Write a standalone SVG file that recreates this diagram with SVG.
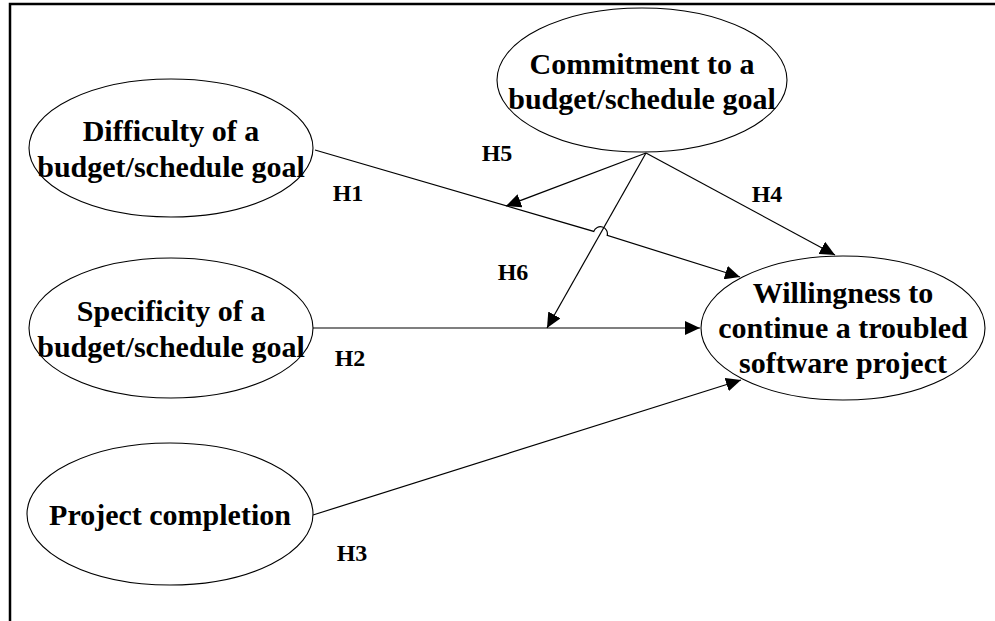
<svg xmlns="http://www.w3.org/2000/svg" width="995" height="621" viewBox="0 0 995 621">
<style>
.node ellipse{fill:#fff;stroke:#000;stroke-width:1.1}
.node text{font-family:"Liberation Serif","Times New Roman",serif;font-weight:bold;font-size:30px;text-anchor:middle;fill:#000}
.lbl{font-family:"Liberation Serif","Times New Roman",serif;font-weight:bold;font-size:24px;text-anchor:middle;fill:#000}
.edge{fill:none;stroke:#000;stroke-width:1.2}
.frame{fill:none;stroke:#000;stroke-width:2.5}
</style>
<defs>
<marker id="arr" markerUnits="userSpaceOnUse" markerWidth="16" markerHeight="14" refX="15" refY="7" orient="auto">
<path d="M0,0 L15,7 L0,14 Z" fill="#000"/>
</marker>
</defs>
<rect width="995" height="621" fill="#fff"/>
<path class="frame" d="M10,621 L10,4 L995,4"/>
<g id="connectors">
<path class="edge" d="M315,150 L593.8,231.4 A7,7 0 0 1 607.2,235.4 L740,277" marker-end="url(#arr)"/>
<line class="edge" x1="646" y1="153" x2="506" y2="206" marker-end="url(#arr)"/>
<line class="edge" x1="646" y1="153" x2="835" y2="255" marker-end="url(#arr)"/>
<line class="edge" x1="646" y1="153" x2="547" y2="328" marker-end="url(#arr)"/>
<line class="edge" x1="313" y1="328" x2="700" y2="328" marker-end="url(#arr)"/>
<line class="edge" x1="313" y1="515" x2="741" y2="380" marker-end="url(#arr)"/>
</g>
<g id="labels">
<text class="lbl" x="497" y="161">H5</text>
<text class="lbl" x="348" y="201">H1</text>
<text class="lbl" x="767" y="202">H4</text>
<text class="lbl" x="513" y="280">H6</text>
<text class="lbl" x="350" y="366">H2</text>
<text class="lbl" x="352" y="561">H3</text>
</g>
<g id="commitment" class="node">
<ellipse cx="642" cy="80" rx="145" ry="72"/>
<text x="642" y="74">Commitment to a</text>
<text x="642" y="109">budget/schedule goal</text>
</g>
<g id="difficulty" class="node">
<ellipse cx="171" cy="148" rx="142" ry="69"/>
<text x="171" y="141">Difficulty of a</text>
<text x="171" y="177">budget/schedule goal</text>
</g>
<g id="specificity" class="node">
<ellipse cx="171" cy="328" rx="142" ry="70"/>
<text x="171" y="321">Specificity of a</text>
<text x="171" y="357">budget/schedule goal</text>
</g>
<g id="completion" class="node">
<ellipse cx="170" cy="514" rx="143" ry="71"/>
<text x="170" y="525">Project completion</text>
</g>
<g id="willingness" class="node">
<ellipse cx="843" cy="328" rx="142" ry="72"/>
<text x="843" y="303">Willingness to</text>
<text x="843" y="338">continue a troubled</text>
<text x="843" y="373">software project</text>
</g>
</svg>
